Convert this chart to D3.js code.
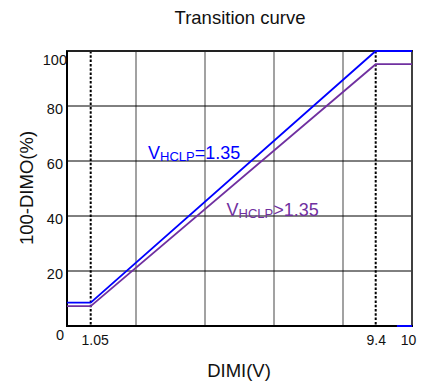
<!DOCTYPE html>
<html>
<head>
<meta charset="utf-8">
<script src="https://cdn.jsdelivr.net/npm/d3@7"></script>
<style>
body { margin:0; background:#fff; }
text { font-family: Arial, "Liberation Sans", sans-serif; }
</style>
</head>
<body>
<svg id="graph"></svg>
<script>
// data
var xBreaks = [0, 1.05, 9.4, 10];          // schematic x axis, not to scale
var xTicks = [1.05, 9.4, 10];
var xTickLabels = ["1.05", "9.4", "10"];
var yTicks = [0, 20, 40, 60, 80, 100];

var blueX = [0, 1.05, 9.4, 10];
var blueY = [8.5, 8.5, 100, 100];
var blueTailX = [9.75, 10];
var blueTailY = [0, 0];

var purpleX = [0, 1.05, 9.4, 10];
var purpleY = [7.2, 7.2, 95.2, 95.2];

var dottedX = [1.05, 9.4];

var screen = {width:423, height:381};
var margins = {top:51, bottom:55, left:67, right:11};
var graph = {
    width: screen.width - margins.left - margins.right,
    height: screen.height - margins.top - margins.bottom
};

var toPoints = function(xs, ys)
{
    return xs.map(function(x, i){ return {x:x, y:ys[i]}; });
}

var addLabel = function(g, x, y, color, rest)
{
    var t = g.append("text")
        .attr("x", x)
        .attr("y", y)
        .attr("fill", color)
        .attr("font-size", 18);
    t.append("tspan").text("V");
    t.append("tspan").attr("font-size", 13).attr("dy", 2).text("HCLP");
    t.append("tspan").attr("dy", -2).text(rest);
}

var initGraph = function(target)
{
    var svg = d3.select(target)
        .attr("width", screen.width)
        .attr("height", screen.height);

    var g = svg.append("g")
        .attr("transform", "translate(" + margins.left + "," + margins.top + ")");

    // the x axis is drawn piecewise: 1.05 and 9.4 sit at fixed spots
    var xScale = d3.scaleLinear()
        .domain(xBreaks)
        .range([0, 23.7, 308.7, graph.width]);
    var gridScale = d3.scaleLinear()
        .domain([0, 5])
        .range([0, graph.width]);
    var yScale = d3.scaleLinear()
        .domain([0, 100])
        .range([graph.height, 0]);

    // vertical grid
    g.selectAll(".vgrid")
        .data([1, 2, 3, 4])
        .enter().append("line")
        .attr("x1", function(d){ return gridScale(d); })
        .attr("x2", function(d){ return gridScale(d); })
        .attr("y1", 0)
        .attr("y2", graph.height)
        .attr("stroke", "#707070")
        .attr("stroke-width", 1.3);

    // horizontal grid
    g.selectAll(".hgrid")
        .data([20, 40, 60, 80])
        .enter().append("line")
        .attr("x1", 0)
        .attr("x2", graph.width)
        .attr("y1", function(d){ return yScale(d); })
        .attr("y2", function(d){ return yScale(d); })
        .attr("stroke", "#000")
        .attr("stroke-width", 1);

    // dotted markers
    g.selectAll(".dot")
        .data(dottedX)
        .enter().append("line")
        .attr("x1", function(d){ return xScale(d); })
        .attr("x2", function(d){ return xScale(d); })
        .attr("y1", 0)
        .attr("y2", graph.height)
        .attr("stroke", "#000")
        .attr("stroke-width", 2)
        .attr("stroke-dasharray", "2.5,1.8");

    // frame
    g.append("line")
        .attr("x1", graph.width).attr("x2", graph.width)
        .attr("y1", 0).attr("y2", graph.height)
        .attr("stroke", "#404040").attr("stroke-width", 2);
    g.append("line")
        .attr("x1", -1).attr("x2", graph.width + 1)
        .attr("y1", 0).attr("y2", 0)
        .attr("stroke", "#222").attr("stroke-width", 2);
    g.append("line")
        .attr("x1", -1).attr("x2", graph.width + 1)
        .attr("y1", graph.height).attr("y2", graph.height)
        .attr("stroke", "#000").attr("stroke-width", 2);
    g.append("line")
        .attr("x1", 0).attr("x2", 0)
        .attr("y1", 0).attr("y2", graph.height)
        .attr("stroke", "#000").attr("stroke-width", 2);

    var line = d3.line()
        .x(function(d){ return xScale(d.x); })
        .y(function(d){ return yScale(d.y); });

    g.append("path")
        .datum(toPoints(purpleX, purpleY))
        .attr("d", line)
        .attr("fill", "none")
        .attr("stroke", "#7030A0")
        .attr("stroke-width", 1.8);

    g.append("path")
        .datum(toPoints(blueX, blueY))
        .attr("d", line)
        .attr("fill", "none")
        .attr("stroke", "#0000FF")
        .attr("stroke-width", 1.8);

    g.append("path")
        .datum(toPoints(blueTailX, blueTailY))
        .attr("d", line)
        .attr("fill", "none")
        .attr("stroke", "#0000FF")
        .attr("stroke-width", 2);

    // y axis labels
    var yAxis = d3.axisLeft(yScale)
        .tickValues(yTicks)
        .tickSize(0)
        .tickPadding(4);
    var ya = g.append("g").call(yAxis);
    ya.select(".domain").remove();
    ya.selectAll("text")
        .attr("font-size", 14.5)
        .attr("font-family", "Arial, 'Liberation Sans', sans-serif")
        .attr("fill", "#111")
        .attr("dy", "0.5em");
    ya.selectAll(".tick")
        .filter(function(d){ return d == 100; })
        .select("text")
        .attr("x", 0)
        .attr("dy", "0.95em");
    ya.selectAll(".tick")
        .filter(function(d){ return d == 0; })
        .select("text")
        .attr("x", -3)
        .attr("dy", "0.9em");

    // x axis labels
    var xAxis = d3.axisBottom(xScale)
        .tickValues(xTicks)
        .tickFormat(function(d, i){ return xTickLabels[i]; })
        .tickSize(0)
        .tickPadding(9);
    var xa = g.append("g")
        .attr("transform", "translate(0," + graph.height + ")")
        .call(xAxis);
    xa.select(".domain").remove();
    xa.selectAll("text")
        .attr("font-size", 14)
        .attr("font-family", "Arial, 'Liberation Sans', sans-serif")
        .attr("fill", "#111");
    xa.selectAll(".tick")
        .filter(function(d){ return d == 1.05; })
        .select("text")
        .attr("x", 4);
    xa.selectAll(".tick")
        .filter(function(d){ return d == 10; })
        .select("text")
        .attr("x", -4);

    // annotations
    addLabel(g, 148 - margins.left, 159 - margins.top, "#0000FF", "=1.35");
    addLabel(g, 226.5 - margins.left, 215.5 - margins.top, "#7030A0", ">1.35");

    // titles
    svg.append("text")
        .attr("x", 240)
        .attr("y", 24)
        .attr("text-anchor", "middle")
        .attr("font-size", 18.5)
        .attr("fill", "#111")
        .text("Transition curve");

    svg.append("text")
        .attr("x", 239)
        .attr("y", 377)
        .attr("text-anchor", "middle")
        .attr("font-size", 18.5)
        .attr("fill", "#111")
        .text("DIMI(V)");

    svg.append("text")
        .attr("transform", "translate(33,188) rotate(-90)")
        .attr("text-anchor", "middle")
        .attr("font-size", 18.5)
        .attr("fill", "#111")
        .text("100-DIMO(%)");
}

initGraph("#graph");
</script>
</body>
</html>
